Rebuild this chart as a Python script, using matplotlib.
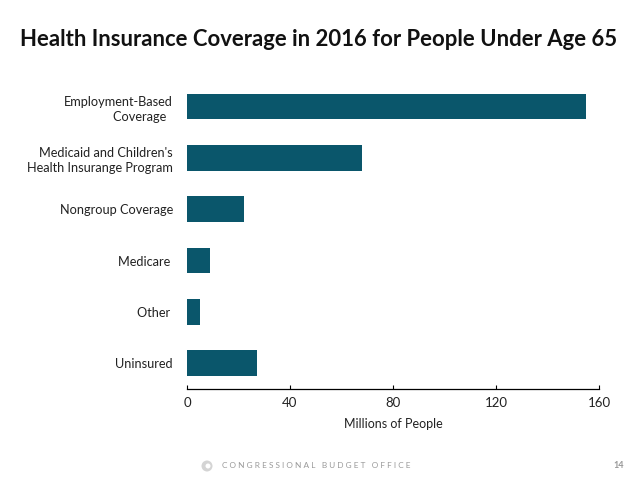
import matplotlib
matplotlib.use("Agg")
import matplotlib.pyplot as plt
from matplotlib.patches import Ellipse

categories = ["Employment-Based\nCoverage  ", "Medicaid and Children's\nHealth Insurange Program",
              "Nongroup Coverage", "Medicare ", "Other ", "Uninsured"]
values = [155, 68, 22, 9, 5, 27]
xticks = [0, 40, 80, 120, 160]

plt.rcParams['font.family'] = ['Lato', 'DejaVu Sans']

fig = plt.figure(figsize=(6.38, 4.79), dpi=100)
ax = fig.add_axes([0.2931, 0.1879, 0.6458, 0.643])
y = list(range(len(categories)))
ax.barh(y, values, height=0.5, color="#0A566B")
ax.set_ylim(len(categories) - 0.5, -0.5)
ax.set_xlim(0, 160)
ax.set_yticks(y)
ax.set_yticklabels(categories, fontsize=9.2, color="#222222", ha='right',
                   multialignment='right', linespacing=1.35)
ax.tick_params(axis='y', length=0, pad=10)
ax.set_xticks(xticks)
ax.set_xticklabels([str(t) for t in xticks], fontsize=9.5, color="#222222")
ax.tick_params(axis='x', direction='in', length=3, width=0.8, pad=6)
for s in ['top', 'right', 'left']:
    ax.spines[s].set_visible(False)
ax.spines['bottom'].set_linewidth(0.9)
ax.set_xlabel("Millions of People", fontsize=9, color="#222222", labelpad=6)

fig.text(0.5, 0.917, "Health Insurance Coverage in 2016 for People Under Age 65",
         ha='center', va='center', fontsize=15.9, fontweight='bold', color="#111111")

cx, cy = 207 / 638, 1 - 466 / 479
fig.patches.append(Ellipse((cx, cy), 11 / 638, 11 / 479, transform=fig.transFigure,
                           facecolor="#D4D4D4", edgecolor="none"))
fig.patches.append(Ellipse((cx + 1 / 638, cy), 5 / 638, 5 / 479, transform=fig.transFigure,
                           facecolor="white", edgecolor="none"))
fig.text(222 / 638, cy, "C O N G R E S S I O N A L   B U D G E T   O F F I C E",
         ha='left', va='center', fontsize=5.95, color="#999999")
fig.text(619 / 638, 1 - 465 / 479, "14", ha='center', va='center', fontsize=6.5,
         fontweight='bold', color="#999999")

fig.savefig("out.png", dpi=100)
